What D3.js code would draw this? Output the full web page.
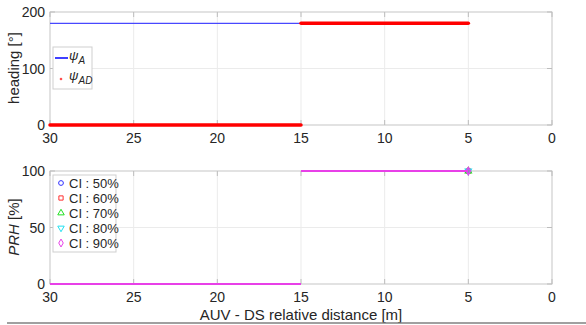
<!DOCTYPE html>
<html>
<head>
<meta charset="utf-8">
<script src="https://cdn.jsdelivr.net/npm/d3@7"></script>
<style>
  body { margin: 0; background: #fff; }
  svg { font-family: "Liberation Sans", Arial, sans-serif; }
</style>
</head>
<body>
<div id="chart"></div>
<script>
// data
var xTicks = [30, 25, 20, 15, 10, 5, 0];
var headTicks = [0, 100, 200];
var prhTicks = [0, 50, 100];

var psiA = [{d: 30, v: 180}, {d: 15, v: 180}];
var psiAD = [
    [{d: 30, v: 0}, {d: 15, v: 0}],
    [{d: 15, v: 180}, {d: 5, v: 180}]
];
var ciLabels = ['CI : 50%', 'CI : 60%', 'CI : 70%', 'CI : 80%', 'CI : 90%'];
var ciColors = ['#3030ff', '#ff3030', '#20e020', '#20e0f0', '#e840e8'];
var ciSymbols = [d3.symbolCircle, d3.symbolSquare, d3.symbolTriangle, 'tri-down', d3.symbolDiamond];
// PRH drawn as two separate segments (no vertical jump)
var prhSegs = [
    [{d: 30, v: 0}, {d: 15, v: 0}],
    [{d: 15, v: 100}, {d: 5, v: 100}]
];
var prhPoint = {d: 5, v: 100};

var width = 586, height = 325;
var svg = d3.select('#chart').append('svg')
    .attr('width', width)
    .attr('height', height);

var x = d3.scaleLinear().domain([30, 0]).range([50, 552]);

function panel(top, bottom, ymax, ticks) {
    var y = d3.scaleLinear().domain([0, ymax]).range([bottom, top]);
    var g = svg.append('g');
    // grid
    g.selectAll('.gx').data(xTicks).enter().append('line')
        .attr('x1', d => x(d)).attr('x2', d => x(d))
        .attr('y1', top).attr('y2', bottom)
        .style('stroke', '#ebebeb').style('stroke-width', 1);
    g.selectAll('.gy').data(ticks).enter().append('line')
        .attr('x1', 50).attr('x2', 552)
        .attr('y1', d => y(d)).attr('y2', d => y(d))
        .style('stroke', '#ebebeb').style('stroke-width', 1);
    // box
    g.append('rect')
        .attr('x', 50).attr('y', top)
        .attr('width', 502).attr('height', bottom - top)
        .style('fill', 'none').style('stroke', '#cfcfcf').style('stroke-width', 1);
    // ticks (inward, left and right)
    g.selectAll('.ty').data(ticks).enter().append('path')
        .attr('d', d => 'M50,' + y(d) + 'h5M552,' + y(d) + 'h-5')
        .style('stroke', '#bdbdbd');
    g.selectAll('.tx').data(xTicks).enter().append('path')
        .attr('d', d => 'M' + x(d) + ',' + bottom + 'v-5M' + x(d) + ',' + top + 'v5')
        .style('stroke', '#bdbdbd');
    // labels
    g.selectAll('.ly').data(ticks).enter().append('text')
        .attr('x', 45).attr('y', d => y(d) + 5)
        .attr('text-anchor', 'end')
        .style('font-size', '14px').style('fill', '#262626')
        .text(d => d);
    g.selectAll('.lx').data(xTicks).enter().append('text')
        .attr('x', d => x(d)).attr('y', bottom + 18)
        .attr('text-anchor', 'middle')
        .style('font-size', '14px').style('fill', '#262626')
        .text(d => d);
    return {g: g, y: y};
}

// top panel: heading
var p1 = panel(12, 125, 200, headTicks);
var line1 = d3.line().x(d => x(d.d)).y(d => p1.y(d.v));
p1.g.append('path').datum(psiA).attr('d', line1)
    .style('fill', 'none').style('stroke', '#4848ff').style('stroke-width', 1.3);
psiAD.forEach(function(seg) {
    p1.g.append('path').datum(seg).attr('d', line1)
        .style('fill', 'none').style('stroke', '#ff0000').style('stroke-width', 3.5)
        .style('stroke-linecap', 'round');
});

svg.append('text')
    .attr('transform', 'translate(19,68) rotate(-90)')
    .attr('text-anchor', 'middle')
    .style('font-size', '15px').style('fill', '#262626')
    .text('heading [°]');

// legend 1
var leg1 = svg.append('g');
leg1.append('rect').attr('x', 53).attr('y', 47).attr('width', 39).attr('height', 42)
    .style('fill', '#fff').style('stroke', '#cfcfcf');
leg1.append('line').attr('x1', 55).attr('x2', 68).attr('y1', 58).attr('y2', 58)
    .style('stroke', '#0000ff').style('stroke-width', 1.5);
leg1.append('circle').attr('cx', 61).attr('cy', 79).attr('r', 1.3).style('fill', '#ff5050');
var t1 = leg1.append('text').attr('x', 69).attr('y', 60)
    .style('font-size', '13px').style('fill', '#262626');
t1.append('tspan').style('font-style', 'italic').text('ψ');
t1.append('tspan').attr('dy', 4).style('font-size', '10px').style('font-style', 'italic').text('A');
var t2 = leg1.append('text').attr('x', 69).attr('y', 80)
    .style('font-size', '13px').style('fill', '#262626');
t2.append('tspan').style('font-style', 'italic').text('ψ');
t2.append('tspan').attr('dy', 4).style('font-size', '10px').style('font-style', 'italic').text('AD');

// bottom panel: PRH
var p2 = panel(171, 284, 100, prhTicks);
var line2 = d3.line().x(d => x(d.d)).y(d => p2.y(d.v));
function sym(s, size) {
    if (s === 'tri-down') {
        return d3.symbol().type(d3.symbolTriangle).size(size)();
    }
    return d3.symbol().type(s).size(size)();
}
ciLabels.forEach(function(lab, i) {
    prhSegs.forEach(function(seg) {
        p2.g.append('path').datum(seg).attr('d', line2)
            .style('fill', 'none').style('stroke', ciColors[i]).style('stroke-width', 2);
    });
    p2.g.append('path')
        .attr('d', sym(ciSymbols[i], 14))
        .attr('transform', 'translate(' + x(prhPoint.d) + ',' + p2.y(prhPoint.v) + ')' +
            (ciSymbols[i] === 'tri-down' ? ' rotate(180)' : ''))
        .style('fill', 'none').style('stroke', ciColors[i]).style('stroke-width', 1.5);
});

var yl = svg.append('text')
    .attr('transform', 'translate(19,227) rotate(-90)')
    .attr('text-anchor', 'middle')
    .style('font-size', '15px').style('fill', '#262626');
yl.append('tspan').style('font-style', 'italic').text('PRH');
yl.append('tspan').text(' [%]');

svg.append('text')
    .attr('x', 301).attr('y', 320)
    .attr('text-anchor', 'middle')
    .style('font-size', '15px').style('fill', '#262626')
    .text('AUV - DS relative distance [m]');

// legend 2
var leg2 = svg.append('g');
leg2.append('rect').attr('x', 53).attr('y', 175).attr('width', 63).attr('height', 77)
    .style('fill', '#fff').style('stroke', '#cfcfcf');
ciLabels.forEach(function(lab, i) {
    var yy = 183 + i * 15;
    leg2.append('path')
        .attr('d', sym(ciSymbols[i], 18))
        .attr('transform', 'translate(61,' + yy + ')' + (ciSymbols[i] === 'tri-down' ? ' rotate(180)' : ''))
        .style('fill', 'none').style('stroke', ciColors[i]).style('stroke-width', 1);
    leg2.append('text').attr('x', 69).attr('y', yy + 4.5)
        .style('font-size', '13px').style('fill', '#262626')
        .text(lab);
});

// bottom edge rule
svg.append('line').attr('x1', 7).attr('x2', 586).attr('y1', 323).attr('y2', 323)
    .style('stroke', '#808080').style('stroke-width', 1.5);
</script>
</body>
</html>
